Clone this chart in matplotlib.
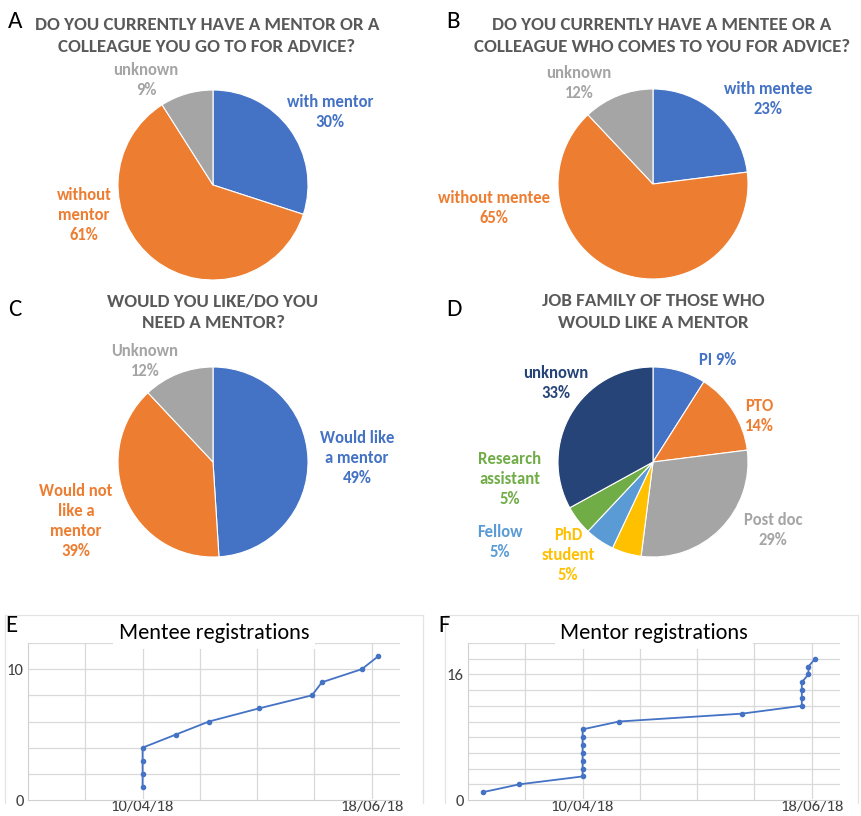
import matplotlib
matplotlib.use("Agg")
import matplotlib.pyplot as plt
import matplotlib.dates as mdates
import pandas as pd
import numpy as np
from matplotlib import font_manager
from matplotlib.lines import Line2D

# survey answers (percent)
mentor_labels = ["with mentor", "without\nmentor", "unknown"]
mentor_pct = [30, 61, 9]

mentee_labels = ["with mentee", "without mentee", "unknown"]
mentee_pct = [23, 65, 12]

need_labels = ["Would like\na mentor", "Would not\nlike a\nmentor", "Unknown"]
need_pct = [49, 39, 12]

job_labels = ["PI", "PTO", "Post doc", "PhD\nstudent", "Fellow", "Research\nassistant", "unknown"]
job_pct = [9, 14, 29, 5, 5, 5, 33]

# cumulative registrations
mentee_dates = ["2018-04-10", "2018-04-10", "2018-04-10", "2018-04-10", "2018-04-20",
                "2018-04-30", "2018-05-15", "2018-05-31", "2018-06-03", "2018-06-15",
                "2018-06-20"]
mentee_counts = [1, 2, 3, 4, 5, 6, 7, 8, 9, 10, 11]

mentor_dates = ["2018-03-11", "2018-03-22", "2018-04-10", "2018-04-10", "2018-04-10",
                "2018-04-10", "2018-04-10", "2018-04-10", "2018-04-10", "2018-04-21",
                "2018-05-28", "2018-06-15", "2018-06-15", "2018-06-15", "2018-06-15",
                "2018-06-17", "2018-06-17", "2018-06-19"]
mentor_counts = [1, 2, 3, 4, 5, 6, 7, 8, 9, 10, 11, 12, 13, 14, 15, 16, 17, 18]

date_ticks = ["2018-04-10", "2018-06-18"]

BLUE = "#4472C4"
ORANGE = "#ED7D31"
GREY = "#A5A5A5"
YELLOW = "#FFC000"
LBLUE = "#5B9BD5"
GREEN = "#70AD47"
DBLUE = "#264478"
TITLE_C = "#595959"

installed = {f.name for f in font_manager.fontManager.ttflist}


def pick(*names):
    for n in names:
        if n in installed:
            return n
    return "DejaVu Sans"


BOLD_FONT = pick("Carlito", "Liberation Sans Narrow", "Open Sans")
REG_FONT = pick("Carlito", "Open Sans", "Noto Sans")

W, H = 861, 816
fig = plt.figure(figsize=(W / 100, H / 100), dpi=100)


def px_axes(left, top, right, bottom):
    return fig.add_axes([left / W, 1 - bottom / H, (right - left) / W, (bottom - top) / H])


def ftext(x, y, s, **kw):
    fig.text(x / W, 1 - y / H, s, **kw)


def pie_panel(cx, cy, r, values, colors):
    ax = px_axes(cx - r, cy - r, cx + r, cy + r)
    ax.pie(values, colors=colors, startangle=90, counterclock=False, radius=1,
           wedgeprops=dict(edgecolor="white", linewidth=0.8))
    ax.set_xlim(-1, 1)
    ax.set_ylim(-1, 1)
    ax.set_aspect("equal")
    ax.axis("off")
    return ax


def pie_label(x, y, name, pct, color, sep="\n"):
    ftext(x, y, f"{name}{sep}{pct}%", color=color, fontsize=12, fontweight="bold",
          family=BOLD_FONT, ha="center", va="center", linespacing=1.3)


def title(x, y, s):
    ftext(x, y, s, color=TITLE_C, fontsize=13.7, fontweight="bold", family=BOLD_FONT,
          ha="center", va="center", linespacing=1.45)


def letter(x, y, s):
    ftext(x, y, s, fontsize=18, family=REG_FONT, ha="left", va="center")


# A
letter(8, 22, "A")
title(207, 36, "DO YOU CURRENTLY HAVE A MENTOR OR A\nCOLLEAGUE YOU GO TO FOR ADVICE?")
pie_panel(213, 185, 95, mentor_pct, [BLUE, ORANGE, GREY])
pie_label(330, 112, mentor_labels[0], mentor_pct[0], BLUE)
pie_label(84, 215, mentor_labels[1], mentor_pct[1], ORANGE)
pie_label(146, 80, mentor_labels[2], mentor_pct[2], GREY)

# B
letter(446, 22, "B")
title(662, 36, "DO YOU CURRENTLY HAVE A MENTEE OR A\nCOLLEAGUE WHO COMES TO YOU FOR ADVICE?")
pie_panel(653, 184, 95, mentee_pct, [BLUE, ORANGE, GREY])
pie_label(768, 99, mentee_labels[0], mentee_pct[0], BLUE)
pie_label(494, 208, mentee_labels[1], mentee_pct[1], ORANGE)
pie_label(579, 83, mentee_labels[2], mentee_pct[2], GREY)

# C
letter(8, 310, "C")
title(213, 312, "WOULD YOU LIKE/DO YOU\nNEED A MENTOR?")
pie_panel(213, 462, 95, need_pct, [BLUE, ORANGE, GREY])
pie_label(357, 458, need_labels[0], need_pct[0], BLUE)
pie_label(76, 521, need_labels[1], need_pct[1], ORANGE)
pie_label(145, 361, need_labels[2], need_pct[2], GREY)

# D
letter(446, 310, "D")
title(653, 312, "JOB FAMILY OF THOSE WHO\nWOULD LIKE A MENTOR")
job_colors = [BLUE, ORANGE, GREY, YELLOW, LBLUE, GREEN, DBLUE]
pie_panel(653, 462, 95, job_pct, job_colors)
job_pos = [(718, 360), (759, 416), (773, 530), (568, 555), (500, 542), (510, 479), (556, 383)]
for (x, y), name, pct, c in zip(job_pos, job_labels, job_pct, job_colors):
    pie_label(x, y, name, pct, c, sep=" " if name == "PI" else "\n")


def reg_panel(left, right, dates, counts, ymax, ylabels, name):
    ax = px_axes(left, 643, right, 800)
    x = pd.to_datetime(dates)
    ax.plot(x, counts, color=BLUE, linewidth=1.3, marker="o", markersize=3.0)
    base = pd.Timestamp("2018-04-10")
    step = pd.Timedelta(days=69 / 4)
    ax.set_xlim(base - 2 * step, base + pd.Timedelta(days=77.5))
    ax.set_ylim(0, ymax)
    for k in range(-1, 5):
        ax.axvline(base + k * step, color="#d9d9d9", linewidth=0.9, zorder=0)
    for yv in range(2, ymax + 1, 2):
        ax.axhline(yv, color="#d9d9d9", linewidth=0.9, zorder=0)
    ax.set_yticks(ylabels)
    ax.set_xticks(pd.to_datetime(date_ticks))
    ax.xaxis.set_major_formatter(mdates.DateFormatter("%d/%m/%y"))
    ax.tick_params(length=0, labelsize=12, labelcolor="#404040")
    ax.tick_params(axis="x", pad=0)
    ax.tick_params(axis="y", pad=3)
    for lab in ax.get_xticklabels():
        lab.set_family(REG_FONT)
        lab.set_bbox(dict(facecolor="white", edgecolor="none", pad=1))
    for lab in ax.get_yticklabels():
        lab.set_family(REG_FONT)
    for s in ["top", "right"]:
        ax.spines[s].set_visible(False)
    for s in ["left", "bottom"]:
        ax.spines[s].set_color("#d0d0d0")
    ax.set_title(name, fontsize=16, family=REG_FONT, pad=-6,
                 bbox=dict(facecolor="white", edgecolor="none", pad=4))
    return ax


reg_panel(28, 400, mentee_dates, mentee_counts, 12, [0, 10], "Mentee registrations")
reg_panel(468, 840, mentor_dates, mentor_counts, 20, [0, 16], "Mentor registrations")

# light chart frames
for x0, x1 in [(5, 423), (445, 858)]:
    for xs, ys in [([x0, x1], [615, 615]), ([x0, x0], [615, 803]), ([x1, x1], [615, 803])]:
        fig.add_artist(Line2D([v / W for v in xs], [1 - v / H for v in ys],
                              color="#e4e4e4", linewidth=0.9))

letter(5, 625, "E")
letter(438, 625, "F")

fig.savefig("out.png", dpi=100)
